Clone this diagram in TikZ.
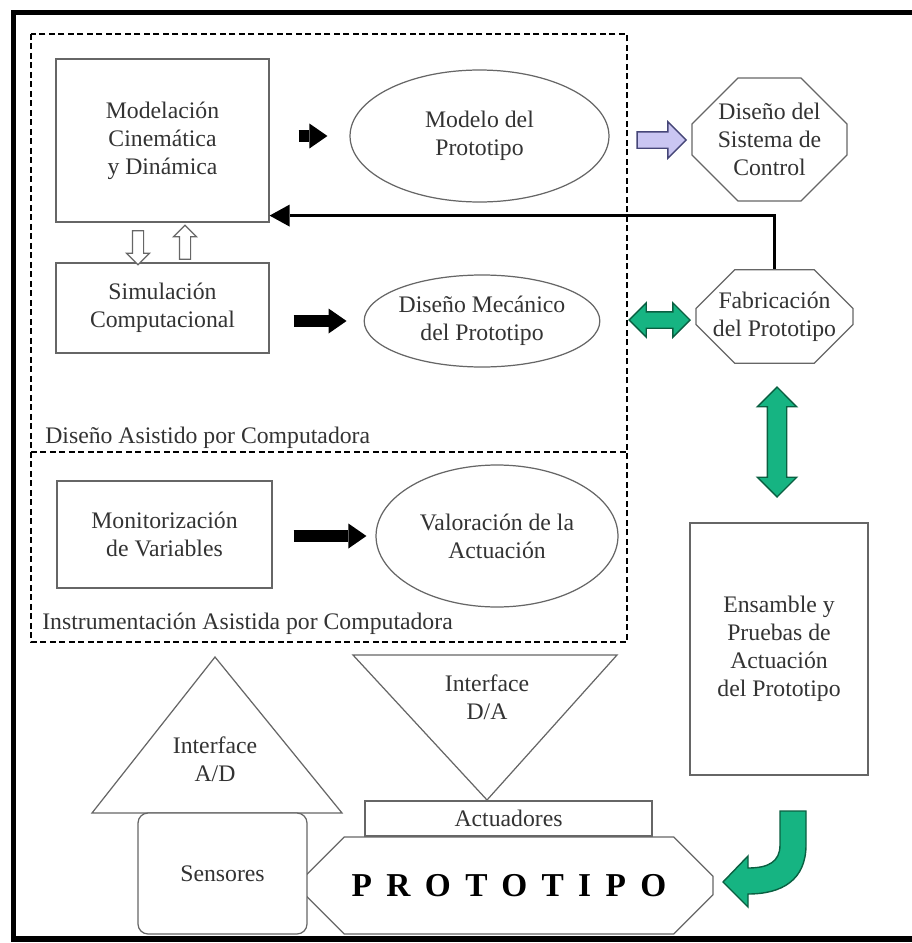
\documentclass[tikz,border=0pt]{standalone}
\usepackage{fontspec}
\setmainfont{Liberation Serif}
\usetikzlibrary{positioning, arrows.meta, shapes.geometric, shapes.misc, shapes.arrows}
\definecolor{mint}{RGB}{22,180,130}
\definecolor{mintdark}{RGB}{10,95,65}
\definecolor{lilac}{RGB}{202,198,242}
\definecolor{lilacdark}{RGB}{70,70,120}
\newcommand{\nodefont}{\fontsize{13.5}{16}\selectfont}
\newcommand{\bigfont}{\fontsize{19}{22}\selectfont\bfseries}
\tikzset{
  box/.style      = {draw=black!60, line width=0.7pt, fill=white, align=center,
                     inner sep=0pt, font=\nodefont, text=black!80},
  oval/.style     = {box, ellipse},
  octo/.style     = {box, chamfered rectangle, chamfered rectangle xsep=0.42cm,
                     chamfered rectangle ysep=0.5cm},
  lbl/.style      = {font=\nodefont, text=black!80, anchor=west, inner sep=0pt},
  frontier/.style = {line width=0.04cm, dash pattern=on 0.12cm off 0.07cm},
  blkarrow/.style = {line width=0.24cm, -{Triangle[length=0.36cm, width=0.5cm, line width=0pt]}},
  fbline/.style   = {line width=0.06cm, -{Triangle[length=0.4cm, width=0.44cm, line width=0pt]}},
  hollow/.style   = {single arrow, draw=black!60, fill=white, line width=0.7pt, inner ysep=0pt,
                     inner xsep=0.1cm, minimum height=0.68cm, single arrow head extend=0.12cm},
  lilacarr/.style = {single arrow, draw=lilacdark, fill=lilac, line width=0.8pt, inner xsep=0pt,
                     inner ysep=0.15cm, single arrow head extend=0.2cm},
  mintarr/.style  = {double arrow, draw=mintdark, fill=mint, line width=0.8pt},
}

\begin{document}
\begin{tikzpicture}[x=0.02cm, y=-0.02cm]
  \useasboundingbox (0,0) rectangle (912,943);
  % frame (right side runs off the page)
  \draw[line width=0.12cm] (912,12.5) -- (13.5,12.5) -- (13.5,939) -- (912,939);

  % CAD / CAI regions
  \draw[frontier] (31,34) rectangle (627,642);
  \draw[frontier] (31,452) -- (627,452);
  \node[lbl] at (45,438) (cad) {Diseño Asistido por Computadora};
  \node[lbl] at (42,624) (cai) {Instrumentación Asistida por Computadora};

  \node[box, minimum width=4.26cm, minimum height=3.26cm] at (162.5,140.5) (modelacion) {Modelación\\Cinemática\\y Dinámica};
  \node[box, minimum width=4.26cm, minimum height=1.8cm]  at (162.5,308)   (simulacion) {Simulación\\Computacional};
  \node[box, minimum width=4.3cm,  minimum height=2.14cm] at (164.5,534.5) (monitor)    {Monitorización\\de Variables};

  \node[oval, minimum width=5.18cm, minimum height=2.64cm] at (479.5,136) (modelo)     {Modelo del\\Prototipo};
  \node[oval, minimum width=4.48cm, minimum height=1.84cm] at (482,321)   (mecanico)   {Diseño Mecánico\\del Prototipo};
  \node[oval, minimum width=4.84cm, minimum height=2.84cm] at (497,536)   (valoracion) {Valoración de la\\Actuación};

  \node[octo, minimum width=3.1cm, minimum height=1.9cm]  at (769.5,139.5) (sistema) {Diseño del\\Sistema de\\Control};
  \node[octo, chamfered rectangle xsep=0.34cm, chamfered rectangle ysep=0.44cm,
        minimum width=3.1cm, minimum height=1.86cm] at (774.5,316.5) (fabric) {Fabricación\\del Prototipo};
  \node[box, minimum width=3.56cm, minimum height=5.04cm] at (779,649) (ensamble) {Ensamble y\\Pruebas de\\Actuación\\del Prototipo};

  % block arrows
  \node[hollow, shape border rotate=270] at (138,245) (bajar) {};
  \node[hollow, shape border rotate=90]  at (185,245) (subir) {};
  \node[lilacarr, minimum height=0.98cm] at (657.5,140) (tocontrol) {};
  \node[mintarr, minimum height=1.22cm, inner xsep=0pt, inner ysep=0.15cm,
        double arrow head extend=0.18cm] at (659.5,320) (mecfab) {};
  \node[mintarr, shape border rotate=90, minimum height=2.2cm, inner ysep=0pt, inner xsep=0.18cm,
        double arrow head extend=0.2cm] at (777,442) (fabens) {};

  \draw[blkarrow, shorten <=0.58cm, shorten >=0.44cm] (modelacion.east |- modelo.west) -- (modelo.west);
  \draw[blkarrow, shorten <=0.48cm, shorten >=0.34cm] (simulacion.east |- mecanico.west) -- (mecanico.west);
  \draw[blkarrow, shorten <=0.42cm, shorten >=0.18cm] (monitor.east |- valoracion.west) -- (valoracion.west);
  \draw[fbline] (fabric.north) |- ([yshift=0.14cm]modelacion.south east);

  % interfaces and prototype
  \draw[draw=black!60, line width=0.7pt, fill=white] (92,813) -- (215,657) -- (342,813) -- cycle;
  \node[font=\nodefont, text=black!80, align=center] at (215,759) (adtxt) {Interface\\A/D};
  \draw[draw=black!60, line width=0.7pt, fill=white] (353,655) -- (617,655) -- (487,800) -- cycle;
  \node[font=\nodefont, text=black!80, align=center] at (487,697) (datxt) {Interface\\D/A};

  \node[box, minimum width=5.74cm, minimum height=0.7cm] at (508.5,818.5) (actuadores) {Actuadores};
  \node[octo, chamfered rectangle xsep=0.56cm, chamfered rectangle ysep=0.56cm,
        minimum width=8.16cm, minimum height=1.94cm, font=\bigfont, text=black] at (509,885.5) (proto)
        {\addfontfeatures{LetterSpace=43}PROTOTIPO};
  \node[box, rounded corners=0.2cm, minimum width=3.38cm, minimum height=2.42cm] at (222.5,873.5) (sensores) {Sensores};

  % return arrow to the prototype
  \fill[mint, draw=mintdark, line width=0.8pt]
    (780,811) -- (806,811) -- (806,845) .. controls (806,880) and (782,894) .. (748,894)
    -- (748,907) -- (723,882) -- (748,856) -- (748,868)
    .. controls (768,868) and (780,862) .. (780,845) -- cycle;
\end{tikzpicture}
\end{document}
